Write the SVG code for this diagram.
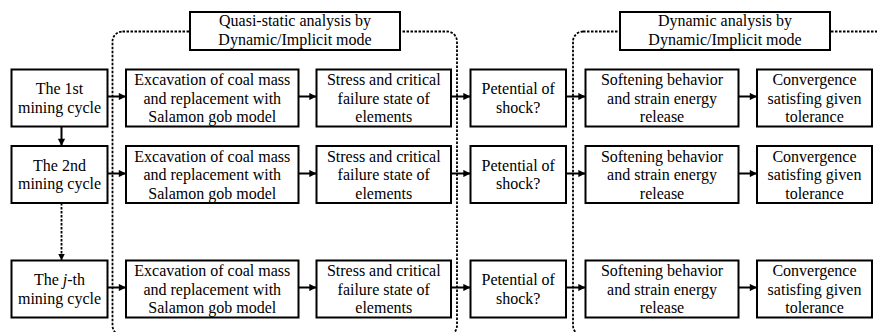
<svg xmlns="http://www.w3.org/2000/svg" width="877" height="332" viewBox="0 0 877 332">
<defs>
<marker id="ah" viewBox="0 0 10 10" refX="10" refY="5" markerWidth="4" markerHeight="3.6" orient="auto" markerUnits="strokeWidth"><path d="M0,0 L10,5 L0,10 z" fill="#000"/></marker>
<style>
.b{fill:#fff;stroke:#000;stroke-width:2}
.t{font-family:"Liberation Serif","Times New Roman",serif;font-size:16px;fill:#000;text-anchor:middle}
.c{stroke:#000;stroke-width:2;fill:none}
.d{stroke:#000;stroke-width:1.8;fill:none;stroke-dasharray:2.5 1.5}
</style>
</defs>
<rect width="877" height="332" fill="#fff"/>
<g id="regions">
<rect class="d" x="112.5" y="31.5" width="344.5" height="304" rx="10"/>
<rect class="d" x="573" y="31.5" width="330" height="304" rx="10"/>
</g>
<g id="connectors">
<line class="c" x1="61.5" y1="126.5" x2="61.5" y2="146" marker-end="url(#ah)"/>
<line class="d" x1="61.5" y1="203" x2="61.5" y2="260.5" marker-end="url(#ah)" stroke-width="2"/>
<line class="c" x1="107.5" y1="96.5" x2="126" y2="96.5" marker-end="url(#ah)"/>
<line class="c" x1="298.5" y1="96.5" x2="316.5" y2="96.5" marker-end="url(#ah)"/>
<line class="c" x1="451" y1="96.5" x2="470.5" y2="96.5" marker-end="url(#ah)"/>
<line class="c" x1="566" y1="96.5" x2="585.5" y2="96.5" marker-end="url(#ah)"/>
<line class="c" x1="738.5" y1="96.5" x2="757" y2="96.5" marker-end="url(#ah)"/>
<line class="c" x1="107.5" y1="173.5" x2="126" y2="173.5" marker-end="url(#ah)"/>
<line class="c" x1="298.5" y1="173.5" x2="316.5" y2="173.5" marker-end="url(#ah)"/>
<line class="c" x1="451" y1="173.5" x2="470.5" y2="173.5" marker-end="url(#ah)"/>
<line class="c" x1="566" y1="173.5" x2="585.5" y2="173.5" marker-end="url(#ah)"/>
<line class="c" x1="738.5" y1="173.5" x2="757" y2="173.5" marker-end="url(#ah)"/>
<line class="c" x1="107.5" y1="287.5" x2="126" y2="287.5" marker-end="url(#ah)"/>
<line class="c" x1="298.5" y1="287.5" x2="316.5" y2="287.5" marker-end="url(#ah)"/>
<line class="c" x1="451" y1="287.5" x2="470.5" y2="287.5" marker-end="url(#ah)"/>
<line class="c" x1="566" y1="287.5" x2="585.5" y2="287.5" marker-end="url(#ah)"/>
<line class="c" x1="738.5" y1="287.5" x2="757" y2="287.5" marker-end="url(#ah)"/>
</g>
<g id="title1"><rect class="b" x="190" y="12" width="210" height="38"/><text class="t" x="295" y="26">Quasi-static analysis by</text><text class="t" x="295" y="44.5">Dynamic/Implicit mode</text></g>
<g id="title2"><rect class="b" x="620" y="12" width="210" height="38"/><text class="t" x="725" y="26">Dynamic analysis by</text><text class="t" x="725" y="44.5">Dynamic/Implicit mode</text></g>
<g id="m1"><rect class="b" x="11.5" y="69.5" width="96" height="57"/><text class="t" x="59.5" y="94">The 1st</text><text class="t" x="59.5" y="112.5">mining cycle</text></g>
<g id="e1"><rect class="b" x="126" y="69.5" width="172.5" height="57"/><text class="t" x="212.25" y="85">Excavation of coal mass</text><text class="t" x="212.25" y="103.7">and replacement with</text><text class="t" x="212.25" y="122.3">Salamon gob model</text></g>
<g id="s1"><rect class="b" x="316.5" y="69.5" width="134.5" height="57"/><text class="t" x="383.75" y="85">Stress and critical</text><text class="t" x="383.75" y="103.7">failure state of</text><text class="t" x="383.75" y="122.3">elements</text></g>
<g id="p1"><rect class="b" x="470.5" y="69.5" width="95.5" height="57"/><text class="t" x="518.25" y="94">Petential of</text><text class="t" x="518.25" y="112.5">shock?</text></g>
<g id="f1"><rect class="b" x="585.5" y="69.5" width="153" height="57"/><text class="t" x="662" y="85">Softening behavior</text><text class="t" x="662" y="103.7">and strain energy</text><text class="t" x="662" y="122.3">release</text></g>
<g id="v1"><rect class="b" x="757" y="69.5" width="115" height="57"/><text class="t" x="814.5" y="85">Convergence</text><text class="t" x="814.5" y="103.7">satisfing given</text><text class="t" x="814.5" y="122.3">tolerance</text></g>
<g id="m2"><rect class="b" x="11.5" y="146" width="96" height="57"/><text class="t" x="59.5" y="170.5">The 2nd</text><text class="t" x="59.5" y="189">mining cycle</text></g>
<g id="e2"><rect class="b" x="126" y="146" width="172.5" height="57"/><text class="t" x="212.25" y="161.5">Excavation of coal mass</text><text class="t" x="212.25" y="180.2">and replacement with</text><text class="t" x="212.25" y="198.8">Salamon gob model</text></g>
<g id="s2"><rect class="b" x="316.5" y="146" width="134.5" height="57"/><text class="t" x="383.75" y="161.5">Stress and critical</text><text class="t" x="383.75" y="180.2">failure state of</text><text class="t" x="383.75" y="198.8">elements</text></g>
<g id="p2"><rect class="b" x="470.5" y="146" width="95.5" height="57"/><text class="t" x="518.25" y="170.5">Petential of</text><text class="t" x="518.25" y="189">shock?</text></g>
<g id="f2"><rect class="b" x="585.5" y="146" width="153" height="57"/><text class="t" x="662" y="161.5">Softening behavior</text><text class="t" x="662" y="180.2">and strain energy</text><text class="t" x="662" y="198.8">release</text></g>
<g id="v2"><rect class="b" x="757" y="146" width="115" height="57"/><text class="t" x="814.5" y="161.5">Convergence</text><text class="t" x="814.5" y="180.2">satisfing given</text><text class="t" x="814.5" y="198.8">tolerance</text></g>
<g id="m3"><rect class="b" x="11.5" y="260.5" width="96" height="57"/><text class="t" x="59.5" y="285">The <tspan font-style="italic">j</tspan>-th</text><text class="t" x="59.5" y="303.5">mining cycle</text></g>
<g id="e3"><rect class="b" x="126" y="260.5" width="172.5" height="57"/><text class="t" x="212.25" y="276">Excavation of coal mass</text><text class="t" x="212.25" y="294.7">and replacement with</text><text class="t" x="212.25" y="313.3">Salamon gob model</text></g>
<g id="s3"><rect class="b" x="316.5" y="260.5" width="134.5" height="57"/><text class="t" x="383.75" y="276">Stress and critical</text><text class="t" x="383.75" y="294.7">failure state of</text><text class="t" x="383.75" y="313.3">elements</text></g>
<g id="p3"><rect class="b" x="470.5" y="260.5" width="95.5" height="57"/><text class="t" x="518.25" y="285">Petential of</text><text class="t" x="518.25" y="303.5">shock?</text></g>
<g id="f3"><rect class="b" x="585.5" y="260.5" width="153" height="57"/><text class="t" x="662" y="276">Softening behavior</text><text class="t" x="662" y="294.7">and strain energy</text><text class="t" x="662" y="313.3">release</text></g>
<g id="v3"><rect class="b" x="757" y="260.5" width="115" height="57"/><text class="t" x="814.5" y="276">Convergence</text><text class="t" x="814.5" y="294.7">satisfing given</text><text class="t" x="814.5" y="313.3">tolerance</text></g>
</svg>
